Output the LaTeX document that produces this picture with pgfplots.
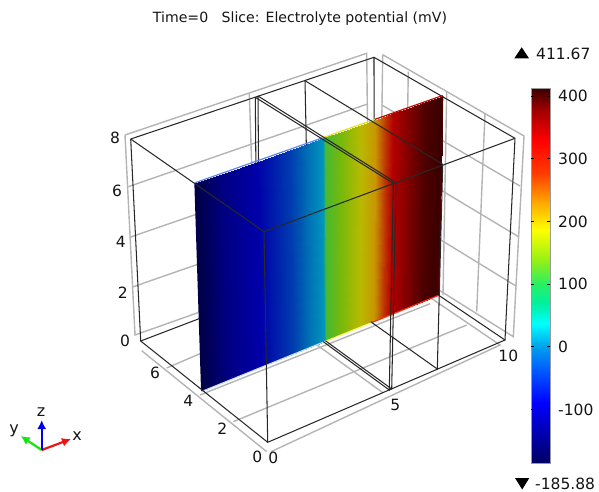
\documentclass[border=0pt]{standalone}
\usepackage{pgfplots}
\usepackage{fontspec}
\setmainfont{DejaVu Sans}
\pgfplotsset{compat=1.18}
\usetikzlibrary{arrows.meta}
\definecolor{txt}{RGB}{20,20,20}
\definecolor{gry}{RGB}{180,180,180}
\definecolor{blk}{RGB}{40,40,40}
\tikzset{lab/.style={text=txt,inner sep=0pt,font=\fontsize{15.5}{16}\selectfont}}
\pgfplotsset{
  colormap={rainbowbar}{
    rgb255(0pt)=(0,0,100); rgb255(96pt)=(0,0,255); rgb255(154pt)=(0,100,255);
    rgb255(186pt)=(0,160,235); rgb255(223pt)=(0,255,255); rgb255(255pt)=(0,240,160);
    rgb255(286pt)=(40,240,100); rgb255(324pt)=(150,240,20); rgb255(372pt)=(255,255,0);
    rgb255(415pt)=(255,170,0); rgb255(463pt)=(255,60,0); rgb255(516pt)=(255,0,0);
    rgb255(564pt)=(160,0,0); rgb255(598pt)=(60,0,0)},
  colormap={slicemap}{
    rgb255(0pt)=(0,0,70); rgb255(51pt)=(0,0,130); rgb255(91pt)=(0,0,170);
    rgb255(151pt)=(0,60,175); rgb255(181pt)=(0,110,180); rgb255(201pt)=(0,150,190);
    rgb255(286pt)=(70,185,50); rgb255(321pt)=(120,185,10); rgb255(372pt)=(185,185,0);
    rgb255(416pt)=(200,150,0); rgb255(466pt)=(190,50,0); rgb255(516pt)=(180,0,0);
    rgb255(556pt)=(130,0,0); rgb255(581pt)=(80,0,0); rgb255(598pt)=(55,0,0)},
  gl/.style={gry,line width=1.4pt,no markers,forget plot},
  bl/.style={blk,line width=1.05pt,no markers,forget plot},
}
\begin{document}
\begin{tikzpicture}[x=1pt,y=1pt]
\useasboundingbox (0,0) rectangle (599,492);
\begin{axis}[
  at={(0pt,0pt)},anchor=south west,scale only axis,width=599pt,height=492pt,
  xmin=0,xmax=599,ymin=0,ymax=492,y dir=reverse,hide axis,clip=false,
  point meta min=-185.88,point meta max=411.67]
% --- grey walls and floor
\addplot[gl] coordinates {(125,135)(366.7,53.3)(369,252)(135,335)(125,135)};
\addplot[gl] coordinates {(128.3,186.7)(366.7,104.3)};
\addplot[gl] coordinates {(130.7,237)(367.7,155)};
\addplot[gl] coordinates {(132.5,287)(368,205)};
\addplot[gl] coordinates {(249.3,93.3)(256,294)};
\addplot[gl] coordinates {(382.7,54.7)(524,136)(513.3,336.7)(380,253)(382.7,54.7)};
\addplot[gl] coordinates {(381.7,105)(520,186)};
\addplot[gl] coordinates {(381,154)(518,236.4)};
\addplot[gl] coordinates {(380.6,203)(516,286)};
\addplot[gl] coordinates {(408.3,71.7)(405,268)};
\addplot[gl] coordinates {(446.7,91.7)(443,295)};
\addplot[gl] coordinates {(485,113.3)(476.7,311.7)};
\addplot[gl] coordinates {(141.7,350.7)(266.7,451.7)};
\addplot[gl] coordinates {(271,451.7)(500,345)(372,258)};
\addplot[gl] coordinates {(166.7,368)(395,270)};
\addplot[gl] coordinates {(200,395)(430,303.7)};
\addplot[gl] coordinates {(233.3,421.7)(466.7,325)};
\addplot[gl] coordinates {(383.3,393)(255,300)};
% --- black lines behind the slice
\addplot[bl] coordinates {(130.7,139)(374,57.3)(515,138.3)};
\addplot[bl] coordinates {(374,57.3)(374.2,251.8)};
\addplot[bl] coordinates {(140.7,341)(374.2,251.8)(505,340)};
\addplot[bl] coordinates {(255.3,97.3)(257,293)};
\addplot[bl] coordinates {(258,96)(259.5,292)};
\addplot[bl] coordinates {(305,80.7)(309,275)};
% --- slice
\addplot[surf,shader=interp,mesh/cols=15,colormap name=slicemap,forget plot,
  point meta=\thisrow{mV}] table {
x y mV
195 183.3 -185.88
222.2 173.7 -135
256.9 161.5 -95
290.4 149.7 -35
306.5 144 -5
322.6 138.3 15
325 137.5 100
341.1 131.8 135
361 124.8 186
375.1 119.8 230
385.7 116.1 280
393.2 113.5 330
409.3 107.8 370
425.4 102.1 395
442.7 96 411.67
201.7 391 -185.88
227.7 380.4 -135
260.9 367 -95
292.8 354 -35
308.2 347.8 -5
323.5 341.6 15
325.9 340.6 100
341.3 334.4 135
360.2 326.7 186
373.7 321.2 230
383.9 317.1 280
391 314.2 330
406.4 308 370
421.7 301.7 395
438.3 295 411.67
};
% --- slice edges
\addplot[line width=1.3pt,color={rgb,255:red,0;green,0;blue,75},no markers,forget plot] coordinates {(195,183.3)(201.7,391)};
\addplot[line width=1.3pt,color={rgb,255:red,75;green,0;blue,0},no markers,forget plot] coordinates {(442.7,96)(438.3,295)};
\addplot[line width=1.2pt,color={rgb,255:red,200;green,222;blue,255},no markers,forget plot] coordinates {(201.7,391.5)(323.5,342.1)};
\addplot[line width=1.2pt,color={rgb,255:red,255;green,250;blue,110},no markers,forget plot] coordinates {(323.5,342.1)(372,322.5)};
\addplot[line width=1.2pt,color={rgb,255:red,245;green,50;blue,30},no markers,forget plot] coordinates {(372,322.5)(438.3,295.5)};
\addplot[line width=1.2pt,color={rgb,255:red,90;green,130;blue,245},no markers,forget plot] coordinates {(195,182.8)(322.6,137.8)};
\addplot[line width=1.2pt,color={rgb,255:red,225;green,225;blue,40},no markers,forget plot] coordinates {(322.6,137.8)(375,119.3)};
\addplot[line width=1.2pt,color={rgb,255:red,190;green,10;blue,0},no markers,forget plot] coordinates {(375,119.3)(442.7,95.5)};
% --- black lines in front
\addplot[bl] coordinates {(130.7,139)(264,231.7)(515,138.3)};
\addplot[bl] coordinates {(130.7,139)(140.7,341)(267.7,442.3)(505,340)(515,138.3)};
\addplot[bl] coordinates {(264,231.7)(267.7,442.3)};
\addplot[bl] coordinates {(255.3,97.3)(393.3,183.3)(389.3,390)(323.3,341.7)};
\addplot[bl] coordinates {(258,96)(396,182.7)(391.7,389)(325.5,340.8)};
\addplot[bl] coordinates {(305,80.7)(442.7,164.3)(437.3,369)(370.7,321.7)};
% --- colour bar
\addplot[surf,shader=interp,mesh/cols=2,colormap name=rainbowbar,forget plot,
  point meta=\thisrow{mV}] table {
x y mV
531 88.7 411.67
550 88.7 411.67
531 96 400
550 96 400
531 158.7 300
550 158.7 300
531 221.3 200
550 221.3 200
531 284 100
550 284 100
531 346.7 0
550 346.7 0
531 409.3 -100
550 409.3 -100
531 463.2 -185.88
550 463.2 -185.88
};
\addplot[gray!80!white,line width=0.9pt,no markers,forget plot] coordinates {(531,88.7)(550,88.7)(550,463.2)(531,463.2)(531,88.7)};
\addplot[black,line width=0.8pt,no markers,forget plot,unbounded coords=jump] coordinates {
 (531,96)(534,96) (nan,nan) (547,96)(550,96) (nan,nan)
 (531,158.7)(534,158.7) (nan,nan) (547,158.7)(550,158.7) (nan,nan)
 (531,221.3)(534,221.3) (nan,nan) (547,221.3)(550,221.3) (nan,nan)
 (531,284)(534,284) (nan,nan) (547,284)(550,284) (nan,nan)
 (531,346.7)(534,346.7) (nan,nan) (547,346.7)(550,346.7) (nan,nan)
 (531,409.3)(534,409.3) (nan,nan) (547,409.3)(550,409.3)};
% --- range markers
\addplot[fill=black,draw=none,forget plot] coordinates {(514.3,58.3)(529,58.3)(521.7,47.3)} --cycle;
\addplot[fill=black,draw=none,forget plot] coordinates {(515,478)(529.3,478)(522.2,489.5)} --cycle;
% --- triad
\addplot[color={rgb,255:red,240;green,20;blue,20},line width=2.2pt,-{Latex[length=9pt,width=9pt]},no markers,forget plot] coordinates {(41.7,450)(71,439)};
\addplot[color={rgb,255:red,20;green,230;blue,20},line width=2.2pt,-{Latex[length=9pt,width=9pt]},no markers,forget plot] coordinates {(41.7,450)(20.7,436)};
\addplot[color={rgb,255:red,0;green,0;blue,240},line width=2.2pt,-{Latex[length=9pt,width=9pt]},no markers,forget plot] coordinates {(41.7,450)(41.7,420)};
% --- text
\node[text=txt,inner sep=0pt,font=\fontsize{14.1}{16}\selectfont] at (axis cs:300,19) {Time=0\ \ \ Slice: Electrolyte potential (mV)};
\node[lab] at (axis cs:115,138) {8};
\node[lab] at (axis cs:117,190.7) {6};
\node[lab] at (axis cs:120.7,242) {4};
\node[lab] at (axis cs:122.7,292.3) {2};
\node[lab] at (axis cs:125,340.7) {0};
\node[lab] at (axis cs:155,373.3) {6};
\node[lab] at (axis cs:188.3,400.7) {4};
\node[lab] at (axis cs:222.3,428.3) {2};
\node[lab] at (axis cs:257.3,456.7) {0};
\node[lab] at (axis cs:273.3,458.3) {0};
\node[lab] at (axis cs:395.3,405) {5};
\node[lab] at (axis cs:508.3,355.7) {10};
\node[lab,anchor=west] at (axis cs:558,96) {400};
\node[lab,anchor=west] at (axis cs:558,159) {300};
\node[lab,anchor=west] at (axis cs:558,222) {200};
\node[lab,anchor=west] at (axis cs:558,284) {100};
\node[lab,anchor=west] at (axis cs:558,347) {0};
\node[lab,anchor=west] at (axis cs:558,410) {-100};
\node[lab,anchor=west] at (axis cs:536,54) {411.67};
\node[lab,anchor=west] at (axis cs:535,483.5) {-185.88};
\node[lab,font=\fontsize{16}{17}\selectfont] at (axis cs:41,412) {z};
\node[lab,font=\fontsize{16}{17}\selectfont] at (axis cs:77,436) {x};
\node[lab,font=\fontsize{16}{17}\selectfont] at (axis cs:14,431) {y};
\end{axis}
\end{tikzpicture}
\end{document}
